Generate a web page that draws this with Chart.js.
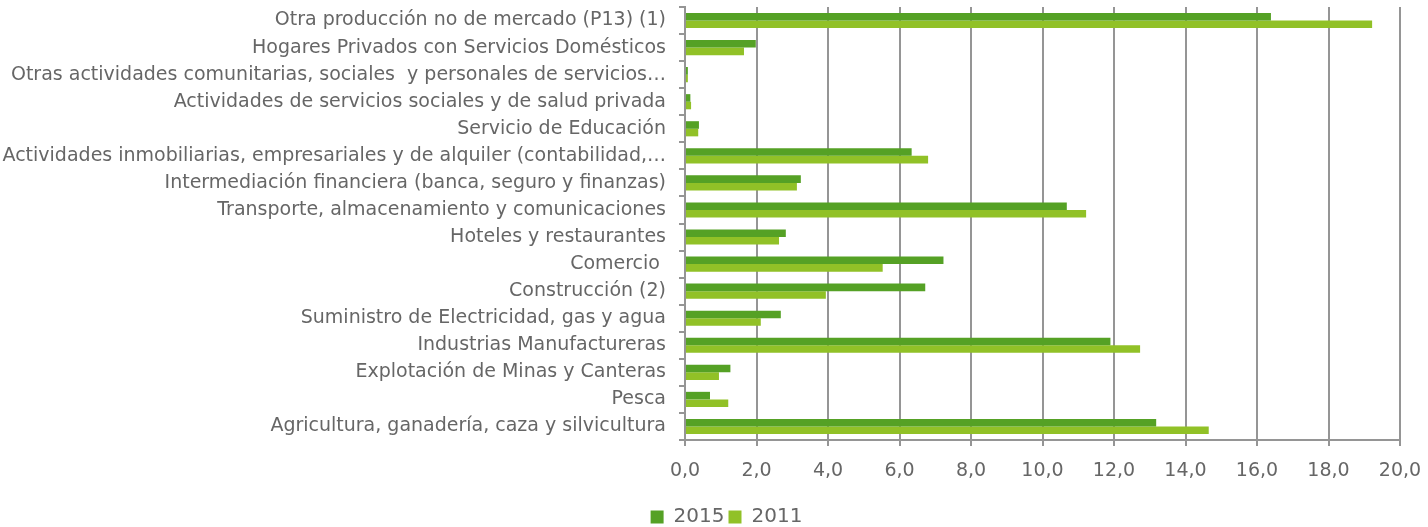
<!DOCTYPE html>
<html>
<head>
<meta charset="utf-8">
<script src="https://cdn.jsdelivr.net/npm/chart.js@4/dist/chart.umd.min.js"></script>
<style>
  html, body { margin: 0; padding: 0; background: #ffffff; }
  #wrap { width: 1428px; height: 527px; position: relative; }
</style>
</head>
<body>
<div id="wrap"><canvas id="c" width="1428" height="527"></canvas></div>
<script>
// Sectores de actividad (de arriba hacia abajo)
const categories = [
  "Otra producción no de mercado (P13) (1)",
  "Hogares Privados con Servicios Domésticos",
  "Otras actividades comunitarias, sociales  y personales de servicios…",
  "Actividades de servicios sociales y de salud privada",
  "Servicio de Educación",
  "Actividades inmobiliarias, empresariales y de alquiler (contabilidad,…",
  "Intermediación financiera (banca, seguro y finanzas)",
  "Transporte, almacenamiento y comunicaciones",
  "Hoteles y restaurantes",
  "Comercio ",
  "Construcción (2)",
  "Suministro de Electricidad, gas y agua",
  "Industrias Manufactureras",
  "Explotación de Minas y Canteras",
  "Pesca",
  "Agricultura, ganadería, caza y silvicultura"
];

const values2015 = [16.39, 1.98, 0.08, 0.15, 0.39, 6.34, 3.24, 10.68, 2.82, 7.23, 6.72, 2.68, 11.90, 1.27, 0.70, 13.18];
const values2011 = [19.22, 1.65, 0.08, 0.17, 0.37, 6.80, 3.13, 11.22, 2.63, 5.53, 3.94, 2.12, 12.73, 0.95, 1.21, 14.65];

const seriesLabels = ["2015", "2011"];
const xTickMin = 0, xTickMax = 20, xTickStep = 2;

const FONT = "'DejaVu Sans', sans-serif";
const TEXT = "#666666";
const GRID = "#959595";

// Centre the legend under the plot + label block rather than the whole canvas
const legendNudge = {
  id: "legendNudge",
  afterLayout(chart) {
    if (chart.legend) { chart.legend.left += 53; }
  }
};

new Chart(document.getElementById("c"), {
  type: "bar",
  data: {
    labels: categories,
    datasets: [
      { label: seriesLabels[0], data: values2015, backgroundColor: "#55a125",
        barPercentage: 1.0, categoryPercentage: 0.56 },
      { label: seriesLabels[1], data: values2011, backgroundColor: "#91c127",
        barPercentage: 1.0, categoryPercentage: 0.56 }
    ]
  },
  plugins: [legendNudge],
  options: {
    indexAxis: "y",
    responsive: false,
    animation: false,
    devicePixelRatio: 1,
    layout: { padding: { top: 7, right: 28, left: 0, bottom: -10 } },
    plugins: {
      tooltip: { enabled: false },
      legend: {
        position: "bottom",
        labels: {
          font: { family: FONT, size: 20 },
          color: TEXT,
          boxWidth: 13,
          boxHeight: 13,
          padding: 4
        }
      }
    },
    scales: {
      x: {
        min: xTickMin,
        max: xTickMax,
        afterFit: (s) => { s.height = 63; s.paddingLeft = 0; s.paddingRight = 0; },
        ticks: {
          stepSize: xTickStep,
          color: TEXT,
          font: { family: FONT, size: 19 },
          padding: 14,
          maxRotation: 0,
          callback: (v) => Number(v).toFixed(1).replace(".", ",")
        },
        grid: { color: GRID, lineWidth: 2, tickLength: 6, tickColor: GRID },
        border: { color: GRID, width: 2 }
      },
      y: {
        afterFit: (s) => { s.width = 685; s.paddingTop = 0; s.paddingBottom = 0; },
        ticks: {
          color: TEXT,
          font: { family: FONT, size: 19 },
          padding: 13,
          autoSkip: false
        },
        grid: { drawOnChartArea: false, tickLength: 6, tickColor: GRID, lineWidth: 2 },
        border: { color: GRID, width: 2 }
      }
    }
  }
});
</script>
</body>
</html>
